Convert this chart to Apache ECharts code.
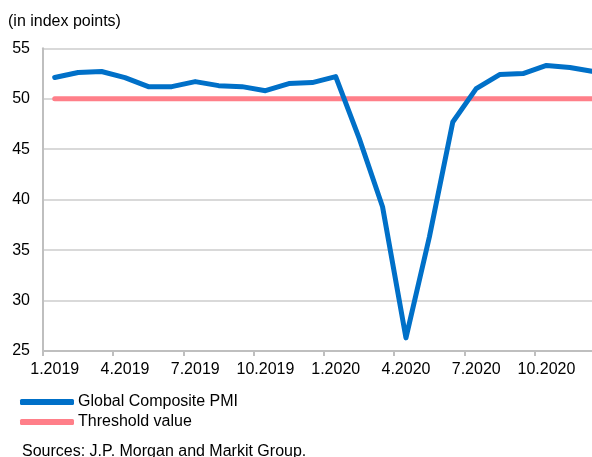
<!DOCTYPE html>
<html>
<head>
<meta charset="utf-8">
<script src="https://cdn.jsdelivr.net/npm/echarts@6/dist/echarts.min.js"></script>
<style>
html,body{margin:0;padding:0;overflow:hidden;background:#fff;}
#c{width:620px;height:457px;}
</style>
</head>
<body>
<div id="c"></div>
<script>
const categories = ['1.2019','2.2019','3.2019','4.2019','5.2019','6.2019','7.2019','8.2019','9.2019','10.2019','11.2019','12.2019',
  '1.2020','2.2020','3.2020','4.2020','5.2020','6.2020','7.2020','8.2020','9.2020','10.2020','11.2020','12.2020'];
const pmiValues = [52.1,52.6,52.7,52.1,51.2,51.2,51.7,51.3,51.2,50.8,51.5,51.6,
  52.2,46.1,39.3,26.3,36.3,47.7,51.0,52.4,52.5,53.3,53.1,52.7];
const thresholdValues = categories.map(() => 50);
const seriesNames = ['Global Composite PMI','Threshold value'];
const yTicks = {min:25, max:55, interval:5};

const font = 'Liberation Sans, Arial, sans-serif';
const chart = echarts.init(document.getElementById('c'));
chart.setOption({
  animation:false,
  textStyle:{fontFamily:font},
  graphic:[
    {type:'text', left:8, top:14, style:{text:'(in index points)', font:'16px '+font, fill:'#000'}},
    {type:'text', left:22, top:444, style:{text:'Sources: J.P. Morgan and Markit Group.', font:'16px '+font, fill:'#000'}}
  ],
  legend:{
    orient:'vertical', left:15, top:389, itemWidth:54, itemHeight:6, itemGap:4,
    icon:'roundRect',
    textStyle:{fontSize:16, color:'#000', fontFamily:font, padding:[0,0,0,-1]},
    data:seriesNames
  },
  grid:{left:43, right:15, top:48.3, bottom:106},
  xAxis:{
    type:'category', data:categories, boundaryGap:true,
    axisLine:{lineStyle:{color:'#bfbfbf', width:2}},
    axisTick:{show:true, interval:2, length:5, lineStyle:{color:'#bfbfbf', width:2}},
    axisLabel:{interval:2, fontSize:16, color:'#000', margin:11, fontFamily:font},
    splitLine:{show:false}
  },
  yAxis:{
    type:'value', min:yTicks.min, max:yTicks.max, interval:yTicks.interval,
    axisLine:{show:true, lineStyle:{color:'#bfbfbf', width:2}},
    axisTick:{show:false},
    axisLabel:{fontSize:16, color:'#000', margin:13, fontFamily:font},
    splitLine:{lineStyle:{color:'#d9d9d9', width:2}}
  },
  series:[
    {name:seriesNames[1], type:'line', data:thresholdValues, symbol:'none', z:2,
     lineStyle:{color:'#ff7f89', width:5, cap:'round'}, itemStyle:{color:'#ff7f89'}},
    {name:seriesNames[0], type:'line', data:pmiValues, symbol:'none', z:3,
     lineStyle:{color:'#0070c8', width:5, cap:'round', join:'round'}, itemStyle:{color:'#0070c8'}}
  ]
});
</script>
</body>
</html>
